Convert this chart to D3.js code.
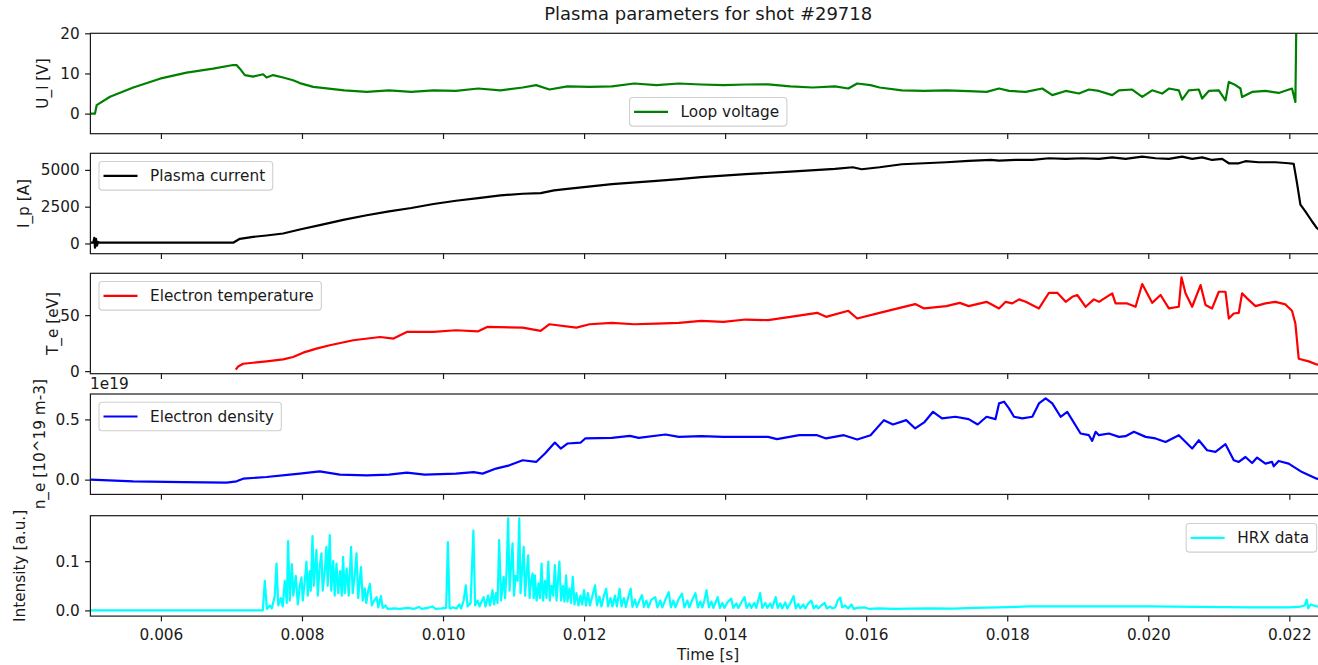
<!DOCTYPE html>
<html>
<head>
<meta charset="utf-8">
<script src="https://cdn.jsdelivr.net/npm/d3@7"></script>
<style>
  body { margin: 0; background: #fff; }
  svg { display: block; font-family: "DejaVu Sans", sans-serif; }
</style>
</head>
<body>
<svg id="chart" width="1318" height="665"></svg>
<script>
// values, time in seconds
var timeLimits = [0.005, 0.02252];
var timeTicks = [0.006, 0.008, 0.010, 0.012, 0.014, 0.016, 0.018, 0.020, 0.022];

// loop voltage [V]
var loopVoltage = [
  [5.000e-3, 0], [5.065e-3, 0], [5.089e-3, 2.1], [5.278e-3, 4.2], [5.608e-3, 6.5], [5.986e-3, 8.7],
  [6.364e-3, 10.2], [6.741e-3, 11.2], [7.024e-3, 12.1], [7.072e-3, 12.1], [7.119e-3, 11.2], [7.190e-3, 9.6],
  [7.307e-3, 9.2], [7.449e-3, 9.8], [7.497e-3, 9.0], [7.591e-3, 9.6], [7.732e-3, 9.0], [7.874e-3, 8.3],
  [7.969e-3, 7.6], [8.159e-3, 6.65], [8.601e-3, 5.8], [8.918e-3, 5.4], [9.234e-3, 5.8], [9.550e-3, 5.4],
  [9.865e-3, 5.8], [10.183e-3, 5.65], [10.499e-3, 6.25], [10.814e-3, 5.8], [11.130e-3, 6.5], [11.320e-3, 7.1],
  [11.510e-3, 6.0], [11.763e-3, 6.8], [12.079e-3, 6.65], [12.395e-3, 6.8], [12.711e-3, 7.5], [13.027e-3, 7.1],
  [13.344e-3, 7.5], [13.660e-3, 7.25], [13.976e-3, 7.1], [14.292e-3, 7.25], [14.609e-3, 7.3], [14.925e-3, 6.8],
  [15.241e-3, 6.5], [15.557e-3, 6.8], [15.747e-3, 6.25], [15.873e-3, 7.5], [16.062e-3, 7.1], [16.190e-3, 6.5],
  [16.506e-3, 5.8], [16.822e-3, 5.65], [17.137e-3, 5.8], [17.453e-3, 5.6], [17.707e-3, 5.4], [17.884e-3, 6.25],
  [18.025e-3, 5.65], [18.262e-3, 5.4], [18.497e-3, 6.25], [18.639e-3, 4.6], [18.829e-3, 5.65], [19.017e-3, 5.0],
  [19.159e-3, 6.0], [19.300e-3, 5.65], [19.489e-3, 4.6], [19.584e-3, 5.8], [19.772e-3, 6.0], [19.914e-3, 4.15],
  [20.055e-3, 5.8], [20.197e-3, 5.0], [20.292e-3, 6.25], [20.433e-3, 5.8], [20.480e-3, 3.5], [20.575e-3, 5.8],
  [20.717e-3, 6.0], [20.764e-3, 3.75], [20.858e-3, 5.65], [21.000e-3, 5.8], [21.095e-3, 3.3], [21.142e-3, 7.9],
  [21.236e-3, 7.1], [21.307e-3, 6.25], [21.330e-3, 4.15], [21.472e-3, 5.4], [21.661e-3, 5.65], [21.849e-3, 5.15],
  [22.038e-3, 6.25], [22.086e-3, 2.9], [22.100e-3, 24]
];

// plasma current [A]
var plasmaCurrent = [
  [5.000e-3, 50], [5.041e-3, 50], [5.055e-3, 380], [5.065e-3, -290], [5.079e-3, 320], [5.093e-3, -150],
  [5.108e-3, 100], [5.136e-3, 50], [7.024e-3, 50], [7.119e-3, 317], [7.307e-3, 450], [7.497e-3, 540],
  [7.732e-3, 676], [7.969e-3, 946], [8.285e-3, 1284], [8.601e-3, 1622], [8.918e-3, 1915], [9.234e-3, 2185],
  [9.550e-3, 2410], [9.865e-3, 2680], [10.183e-3, 2905], [10.499e-3, 3085], [10.814e-3, 3265], [11.130e-3, 3380],
  [11.384e-3, 3425], [11.574e-3, 3605], [11.763e-3, 3716], [12.395e-3, 4030], [13.027e-3, 4257], [13.344e-3, 4370],
  [13.660e-3, 4505], [14.292e-3, 4707], [14.925e-3, 4887], [15.557e-3, 5070], [15.810e-3, 5180], [15.936e-3, 5045],
  [16.190e-3, 5180], [16.506e-3, 5385], [16.822e-3, 5450], [17.137e-3, 5520], [17.453e-3, 5610], [17.769e-3, 5675],
  [17.884e-3, 5630], [18.120e-3, 5675], [18.356e-3, 5675], [18.592e-3, 5790], [18.829e-3, 5745], [19.064e-3, 5790],
  [19.300e-3, 5745], [19.489e-3, 5855], [19.678e-3, 5745], [19.914e-3, 5900], [20.103e-3, 5790], [20.292e-3, 5745],
  [20.480e-3, 5900], [20.622e-3, 5745], [20.764e-3, 5855], [20.905e-3, 5675], [21.047e-3, 5745], [21.142e-3, 5450],
  [21.283e-3, 5450], [21.378e-3, 5590], [21.566e-3, 5520], [21.803e-3, 5520], [21.991e-3, 5450], [22.062e-3, 5405],
  [22.109e-3, 4100], [22.157e-3, 2635], [22.227e-3, 2185], [22.321e-3, 1510], [22.388e-3, 1060], [22.487e-3, 700]
];

// electron temperature [eV]
var electronTemp = [
  [7.062e-3, 1.3], [7.095e-3, 4.2], [7.166e-3, 6.6], [7.307e-3, 7.5], [7.497e-3, 8.7], [7.732e-3, 10.5],
  [7.874e-3, 12.6], [8.016e-3, 16.5], [8.205e-3, 20.1], [8.394e-3, 23.1], [8.728e-3, 27.6], [9.108e-3, 30.5],
  [9.297e-3, 29.1], [9.486e-3, 35.0], [9.865e-3, 35.0], [10.183e-3, 36.5], [10.499e-3, 35.6], [10.625e-3, 39.5],
  [11.130e-3, 38.9], [11.384e-3, 35.9], [11.510e-3, 41.9], [11.890e-3, 38.9], [12.079e-3, 41.9], [12.395e-3, 43.1],
  [12.711e-3, 41.9], [13.027e-3, 42.5], [13.344e-3, 43.1], [13.660e-3, 44.9], [13.976e-3, 44.0], [14.292e-3, 46.1],
  [14.609e-3, 45.5], [14.925e-3, 48.5], [15.305e-3, 52.1], [15.431e-3, 48.5], [15.747e-3, 53.9], [15.873e-3, 47.0],
  [16.190e-3, 52.1], [16.506e-3, 56.9], [16.695e-3, 59.9], [16.822e-3, 56.0], [17.137e-3, 58.1], [17.327e-3, 61.0],
  [17.453e-3, 58.1], [17.707e-3, 61.9], [17.884e-3, 56.0], [17.978e-3, 61.9], [18.072e-3, 60.5], [18.167e-3, 64.1],
  [18.262e-3, 61.9], [18.450e-3, 56.0], [18.592e-3, 70.0], [18.710e-3, 70.0], [18.829e-3, 61.9], [18.923e-3, 66.4],
  [18.993e-3, 68.0], [19.112e-3, 57.5], [19.229e-3, 64.1], [19.300e-3, 61.9], [19.489e-3, 69.5], [19.536e-3, 60.5],
  [19.701e-3, 60.5], [19.820e-3, 57.5], [19.914e-3, 77.8], [20.055e-3, 61.0], [20.174e-3, 68.0], [20.292e-3, 56.0],
  [20.433e-3, 57.5], [20.471e-3, 83.8], [20.528e-3, 69.5], [20.622e-3, 57.5], [20.741e-3, 76.9], [20.812e-3, 59.0],
  [20.905e-3, 56.0], [21.000e-3, 70.9], [21.095e-3, 70.9], [21.142e-3, 47.0], [21.212e-3, 51.5], [21.283e-3, 52.1],
  [21.330e-3, 69.5], [21.401e-3, 65.0], [21.520e-3, 58.1], [21.661e-3, 60.5], [21.803e-3, 61.9], [21.945e-3, 59.6],
  [22.038e-3, 53.9], [22.086e-3, 42.5], [22.133e-3, 11.1], [22.275e-3, 8.7], [22.388e-3, 6.0], [22.487e-3, 5.0]
];

// electron density [1e19 m-3]
var electronDensity = [
  [5.000e-3, 0.0], [5.608e-3, -0.014], [6.316e-3, -0.02], [6.931e-3, -0.025], [7.072e-3, -0.014], [7.166e-3, 0.008],
  [7.497e-3, 0.022], [7.827e-3, 0.042], [7.969e-3, 0.05], [8.157e-3, 0.063], [8.252e-3, 0.069], [8.538e-3, 0.042],
  [8.918e-3, 0.036], [9.234e-3, 0.042], [9.486e-3, 0.058], [9.739e-3, 0.042], [10.183e-3, 0.05], [10.435e-3, 0.063],
  [10.561e-3, 0.05], [10.751e-3, 0.092], [10.941e-3, 0.119], [11.130e-3, 0.161], [11.320e-3, 0.147], [11.446e-3, 0.217],
  [11.586e-3, 0.308], [11.669e-3, 0.258], [11.763e-3, 0.30], [11.953e-3, 0.308], [12.016e-3, 0.342], [12.395e-3, 0.347],
  [12.649e-3, 0.363], [12.775e-3, 0.347], [13.154e-3, 0.375], [13.344e-3, 0.355], [13.660e-3, 0.361], [13.976e-3, 0.355],
  [14.292e-3, 0.355], [14.609e-3, 0.355], [14.735e-3, 0.336], [15.051e-3, 0.369], [15.305e-3, 0.369], [15.431e-3, 0.342],
  [15.683e-3, 0.369], [15.873e-3, 0.333], [16.062e-3, 0.369], [16.252e-3, 0.494], [16.380e-3, 0.458], [16.568e-3, 0.494],
  [16.695e-3, 0.425], [16.822e-3, 0.475], [16.948e-3, 0.563], [17.075e-3, 0.508], [17.265e-3, 0.522], [17.453e-3, 0.502],
  [17.581e-3, 0.458], [17.707e-3, 0.522], [17.833e-3, 0.502], [17.884e-3, 0.633], [17.955e-3, 0.647], [18.025e-3, 0.592],
  [18.096e-3, 0.522], [18.214e-3, 0.508], [18.356e-3, 0.522], [18.450e-3, 0.633], [18.545e-3, 0.675], [18.639e-3, 0.633],
  [18.757e-3, 0.522], [18.851e-3, 0.563], [19.040e-3, 0.383], [19.158e-3, 0.369], [19.205e-3, 0.322], [19.253e-3, 0.397],
  [19.300e-3, 0.369], [19.442e-3, 0.383], [19.584e-3, 0.355], [19.678e-3, 0.361], [19.796e-3, 0.397], [19.962e-3, 0.355],
  [20.103e-3, 0.342], [20.245e-3, 0.313], [20.433e-3, 0.369], [20.622e-3, 0.258], [20.717e-3, 0.327], [20.834e-3, 0.244],
  [20.953e-3, 0.230], [21.095e-3, 0.294], [21.212e-3, 0.161], [21.283e-3, 0.147], [21.378e-3, 0.188], [21.472e-3, 0.138],
  [21.543e-3, 0.183], [21.661e-3, 0.133], [21.755e-3, 0.147], [21.779e-3, 0.111], [21.849e-3, 0.155], [21.991e-3, 0.133],
  [22.180e-3, 0.063], [22.388e-3, 0.008], [22.487e-3, -0.005]
];

// HRX intensity [a.u.]
var hrxData = [
  [4.990e-3, 0.0], [7.445e-3, 0.0], [7.473e-3, 0.060], [7.502e-3, 0.003], [7.544e-3, 0.010], [7.572e-3, 0.004],
  [7.615e-3, 0.030], [7.639e-3, 0.095], [7.664e-3, 0.010], [7.700e-3, 0.025], [7.728e-3, 0.008], [7.756e-3, 0.060],
  [7.785e-3, 0.015], [7.803e-3, 0.141], [7.827e-3, 0.020], [7.856e-3, 0.094], [7.877e-3, 0.030], [7.912e-3, 0.070],
  [7.941e-3, 0.012], [7.969e-3, 0.050], [7.993e-3, 0.067], [8.011e-3, 0.020], [8.040e-3, 0.060], [8.064e-3, 0.099],
  [8.082e-3, 0.030], [8.110e-3, 0.080], [8.125e-3, 0.040], [8.149e-3, 0.151], [8.167e-3, 0.050], [8.205e-3, 0.123],
  [8.224e-3, 0.030], [8.252e-3, 0.090], [8.276e-3, 0.116], [8.294e-3, 0.040], [8.323e-3, 0.080], [8.347e-3, 0.129],
  [8.365e-3, 0.050], [8.394e-3, 0.153], [8.415e-3, 0.040], [8.443e-3, 0.100], [8.464e-3, 0.030], [8.489e-3, 0.095],
  [8.514e-3, 0.035], [8.542e-3, 0.080], [8.564e-3, 0.030], [8.583e-3, 0.109], [8.606e-3, 0.035], [8.634e-3, 0.085],
  [8.663e-3, 0.030], [8.697e-3, 0.129], [8.719e-3, 0.035], [8.748e-3, 0.070], [8.773e-3, 0.116], [8.797e-3, 0.025],
  [8.837e-3, 0.088], [8.861e-3, 0.020], [8.890e-3, 0.045], [8.911e-3, 0.015], [8.939e-3, 0.040], [8.963e-3, 0.054],
  [8.989e-3, 0.010], [9.024e-3, 0.020], [9.058e-3, 0.027], [9.081e-3, 0.006], [9.120e-3, 0.029], [9.145e-3, 0.005],
  [9.184e-3, 0.010], [9.215e-3, 0.003], [9.314e-3, 0.004], [9.385e-3, 0.003], [9.499e-3, 0.005], [9.584e-3, 0.003],
  [9.659e-3, 0.007], [9.697e-3, 0.003], [9.782e-3, 0.005], [9.848e-3, 0.008], [9.895e-3, 0.003], [9.980e-3, 0.004],
  [10.044e-3, 0.005], [10.069e-3, 0.139], [10.093e-3, 0.004], [10.150e-3, 0.006], [10.193e-3, 0.004], [10.228e-3, 0.012],
  [10.256e-3, 0.004], [10.292e-3, 0.020], [10.323e-3, 0.051], [10.348e-3, 0.008], [10.391e-3, 0.015], [10.431e-3, 0.162],
  [10.455e-3, 0.010], [10.490e-3, 0.020], [10.518e-3, 0.008], [10.547e-3, 0.018], [10.575e-3, 0.027], [10.603e-3, 0.008],
  [10.639e-3, 0.030], [10.667e-3, 0.010], [10.701e-3, 0.041], [10.724e-3, 0.012], [10.752e-3, 0.035], [10.773e-3, 0.015],
  [10.796e-3, 0.143], [10.823e-3, 0.020], [10.844e-3, 0.050], [10.860e-3, 0.068], [10.880e-3, 0.025], [10.901e-3, 0.080],
  [10.924e-3, 0.187], [10.943e-3, 0.040], [10.965e-3, 0.090], [10.986e-3, 0.136], [11.007e-3, 0.030], [11.028e-3, 0.070],
  [11.057e-3, 0.060], [11.081e-3, 0.187], [11.099e-3, 0.035], [11.120e-3, 0.080], [11.144e-3, 0.129], [11.163e-3, 0.030],
  [11.184e-3, 0.070], [11.208e-3, 0.112], [11.227e-3, 0.025], [11.248e-3, 0.060], [11.271e-3, 0.075], [11.286e-3, 0.025],
  [11.303e-3, 0.071], [11.326e-3, 0.020], [11.354e-3, 0.055], [11.375e-3, 0.025], [11.397e-3, 0.095], [11.418e-3, 0.020],
  [11.446e-3, 0.060], [11.467e-3, 0.025], [11.493e-3, 0.099], [11.514e-3, 0.020], [11.538e-3, 0.050], [11.562e-3, 0.030],
  [11.586e-3, 0.092], [11.609e-3, 0.020], [11.630e-3, 0.060], [11.650e-3, 0.099], [11.673e-3, 0.020], [11.701e-3, 0.050],
  [11.722e-3, 0.018], [11.745e-3, 0.071], [11.765e-3, 0.018], [11.793e-3, 0.045], [11.814e-3, 0.015], [11.840e-3, 0.068],
  [11.864e-3, 0.012], [11.892e-3, 0.035], [11.921e-3, 0.010], [11.949e-3, 0.030], [11.973e-3, 0.012], [11.999e-3, 0.041],
  [12.027e-3, 0.010], [12.055e-3, 0.035], [12.083e-3, 0.010], [12.119e-3, 0.030], [12.156e-3, 0.051], [12.183e-3, 0.010],
  [12.218e-3, 0.028], [12.246e-3, 0.008], [12.282e-3, 0.030], [12.314e-3, 0.044], [12.339e-3, 0.008], [12.374e-3, 0.025],
  [12.402e-3, 0.008], [12.438e-3, 0.030], [12.466e-3, 0.008], [12.504e-3, 0.044], [12.530e-3, 0.008], [12.565e-3, 0.025],
  [12.593e-3, 0.007], [12.629e-3, 0.028], [12.661e-3, 0.044], [12.686e-3, 0.007], [12.721e-3, 0.022], [12.749e-3, 0.007],
  [12.785e-3, 0.020], [12.820e-3, 0.031], [12.848e-3, 0.007], [12.884e-3, 0.020], [12.912e-3, 0.006], [12.955e-3, 0.022],
  [13.010e-3, 0.027], [13.040e-3, 0.006], [13.082e-3, 0.020], [13.110e-3, 0.006], [13.153e-3, 0.022], [13.200e-3, 0.037],
  [13.231e-3, 0.006], [13.266e-3, 0.020], [13.295e-3, 0.006], [13.337e-3, 0.022], [13.389e-3, 0.034], [13.422e-3, 0.006],
  [13.465e-3, 0.020], [13.493e-3, 0.006], [13.535e-3, 0.022], [13.579e-3, 0.035], [13.613e-3, 0.006], [13.649e-3, 0.018],
  [13.677e-3, 0.006], [13.706e-3, 0.020], [13.737e-3, 0.041], [13.769e-3, 0.006], [13.805e-3, 0.018], [13.833e-3, 0.005],
  [13.861e-3, 0.015], [13.895e-3, 0.027], [13.925e-3, 0.005], [13.960e-3, 0.015], [13.989e-3, 0.005], [14.031e-3, 0.016],
  [14.085e-3, 0.024], [14.116e-3, 0.005], [14.158e-3, 0.014], [14.187e-3, 0.005], [14.229e-3, 0.016], [14.275e-3, 0.027],
  [14.307e-3, 0.005], [14.343e-3, 0.014], [14.371e-3, 0.005], [14.413e-3, 0.015], [14.442e-3, 0.005], [14.496e-3, 0.035],
  [14.527e-3, 0.005], [14.569e-3, 0.015], [14.598e-3, 0.005], [14.640e-3, 0.014], [14.669e-3, 0.005], [14.717e-3, 0.027],
  [14.746e-3, 0.005], [14.782e-3, 0.014], [14.810e-3, 0.004], [14.853e-3, 0.016], [14.881e-3, 0.004], [14.923e-3, 0.014],
  [14.970e-3, 0.029], [15.001e-3, 0.004], [15.037e-3, 0.013], [15.065e-3, 0.004], [15.108e-3, 0.012], [15.136e-3, 0.004],
  [15.178e-3, 0.014], [15.222e-3, 0.020], [15.256e-3, 0.004], [15.292e-3, 0.010], [15.320e-3, 0.004], [15.363e-3, 0.010],
  [15.412e-3, 0.015], [15.441e-3, 0.004], [15.490e-3, 0.008], [15.518e-3, 0.004], [15.561e-3, 0.006], [15.596e-3, 0.020],
  [15.634e-3, 0.026], [15.660e-3, 0.006], [15.702e-3, 0.010], [15.745e-3, 0.004], [15.792e-3, 0.012], [15.823e-3, 0.003],
  [15.873e-3, 0.005], [15.982e-3, 0.006], [16.042e-3, 0.003], [16.184e-3, 0.004], [16.397e-3, 0.003], [16.615e-3, 0.0035],
  [16.892e-3, 0.004], [17.246e-3, 0.0035], [17.529e-3, 0.005], [17.878e-3, 0.006], [18.309e-3, 0.008], [18.734e-3, 0.008],
  [19.300e-3, 0.008], [20.009e-3, 0.008], [20.717e-3, 0.007], [21.425e-3, 0.006], [21.991e-3, 0.006], [22.133e-3, 0.007],
  [22.218e-3, 0.010], [22.246e-3, 0.022], [22.268e-3, 0.004], [22.303e-3, 0.012], [22.388e-3, 0.008], [22.487e-3, 0.008]
];

var seriesNames = ["Loop voltage", "Plasma current", "Electron temperature", "Electron density", "HRX data"];
var seriesColors = ["#008000", "#000000", "#ff0000", "#0000ff", "#00ffff"];
var yLabels = ["U_l [V]", "I_p [A]", "T_e [eV]", "n_e [10^19 m-3]", "Intensity [a.u.]"];
var yLimits = [[-5, 20], [-696, 6128], [-2.3, 87.4], [-0.1225, 0.711], [-0.0116, 0.1924]];
var yTicks = [[0, 10, 20], [0, 2500, 5000], [0, 50], [0.0, 0.5], [0.0, 0.1]];
var yTickFormats = ["d", "d", "d", ".1f", ".1f"];
var legendLocs = ["lower center", "upper left", "upper left", "upper left", "upper right"];

var Chart = (function() {

    var svg = d3.select("#chart");
    var left = 90.4, right = 1326;
    var panelTop = [33.3, 153.3, 273.3, 394, 515.7];
    var panelH = 100.4;
    var yLabelX = [42.5, 24, 53, 40, 19.5];
    var fontSize = 15.3;
    var ink = "#1a1a1a";
    var lineW = 2.2;

    var x = d3.scaleLinear().domain(timeLimits).range([left, right]);

    function styleAxis(g) {
        g.select(".domain").remove();
        g.selectAll(".tick line").attr("stroke", ink).attr("stroke-width", 1.2);
        g.selectAll(".tick text")
          .attr("fill", ink)
          .style("font-size", fontSize + "px")
          .style("font-family", "DejaVu Sans");
    }

    function drawLegend(g, i, top, bottom) {
        var boxH = 28.6;
        var lg = g.append("g").attr("class", "legend");
        var label = lg.append("text")
          .text(seriesNames[i])
          .attr("fill", ink)
          .style("font-size", fontSize + "px");
        var w = label.node().getComputedTextLength();
        var boxW = 51 + w + 7.6;
        var bx, by;
        if (legendLocs[i] === "upper left") {
            bx = left + 8.6; by = top + 8.2;
        } else if (legendLocs[i] === "upper right") {
            bx = right - 9.3 - boxW; by = top + 7.8;
        } else {
            bx = (left + right) / 2 - boxW / 2; by = bottom - 7.6 - boxH;
        }
        var cy = by + boxH / 2;
        lg.insert("rect", ":first-child")
          .attr("x", bx).attr("y", by)
          .attr("width", boxW).attr("height", boxH)
          .attr("rx", 3)
          .attr("fill", "#fff").attr("fill-opacity", 0.8)
          .attr("stroke", "#d0d0d0").attr("stroke-width", 1.1);
        lg.append("line")
          .attr("x1", bx + 4.5).attr("x2", bx + 38.5)
          .attr("y1", cy).attr("y2", cy)
          .attr("stroke", seriesColors[i]).attr("stroke-width", lineW);
        label.attr("x", bx + 51).attr("y", cy).attr("dy", "0.36em");
    }

    function drawPanel(data, i) {
        var top = panelTop[i], bottom = top + panelH;
        var y = d3.scaleLinear().domain(yLimits[i]).range([bottom, top]);
        var g = svg.append("g").attr("class", "panel");

        svg.append("clipPath").attr("id", "clip" + i)
          .append("rect")
          .attr("x", left).attr("y", top)
          .attr("width", right - left).attr("height", panelH);

        var line = d3.line()
          .x(function(d) { return x(d[0]); })
          .y(function(d) { return y(d[1]); });

        g.append("path")
          .datum(data)
          .attr("clip-path", "url(#clip" + i + ")")
          .attr("d", line)
          .attr("fill", "none")
          .attr("stroke", seriesColors[i])
          .attr("stroke-width", lineW)
          .attr("stroke-linejoin", "round");

        g.append("rect")
          .attr("x", left).attr("y", top)
          .attr("width", right - left).attr("height", panelH)
          .attr("fill", "none")
          .attr("stroke", ink)
          .attr("stroke-width", 1.2);

        var yAxis = d3.axisLeft(y)
          .tickValues(yTicks[i])
          .tickFormat(d3.format(yTickFormats[i]))
          .tickSize(5.3)
          .tickPadding(5.3);
        g.append("g").attr("transform", "translate(" + left + ",0)").call(yAxis).call(styleAxis);

        var xAxis = d3.axisBottom(x)
          .tickValues(timeTicks)
          .tickSize(5.3)
          .tickPadding(7.6)
          .tickFormat(i === 4 ? d3.format(".3f") : function() { return ""; });
        g.append("g").attr("transform", "translate(0," + bottom + ")").call(xAxis).call(styleAxis);

        g.append("text")
          .attr("transform", "translate(" + yLabelX[i] + "," + (top + panelH / 2) + ") rotate(-90)")
          .attr("text-anchor", "middle")
          .attr("dy", "0.35em")
          .attr("fill", ink)
          .style("font-size", fontSize + "px")
          .text(yLabels[i]);

        drawLegend(g, i, top, bottom);
    }

    function init() {
        [loopVoltage, plasmaCurrent, electronTemp, electronDensity, hrxData].forEach(drawPanel);

        svg.append("text")
          .attr("x", 90).attr("y", 389)
          .attr("fill", ink)
          .style("font-size", fontSize + "px")
          .text("1e19");

        svg.append("text")
          .attr("x", (left + right) / 2).attr("y", 19.5)
          .attr("text-anchor", "middle")
          .attr("fill", ink)
          .style("font-size", "18px")
          .text("Plasma parameters for shot #29718");

        svg.append("text")
          .attr("x", (left + right) / 2).attr("y", 660)
          .attr("text-anchor", "middle")
          .attr("fill", ink)
          .style("font-size", fontSize + "px")
          .text("Time [s]");
    }

    return { "init": init };

})();

Chart.init();
</script>
</body>
</html>
